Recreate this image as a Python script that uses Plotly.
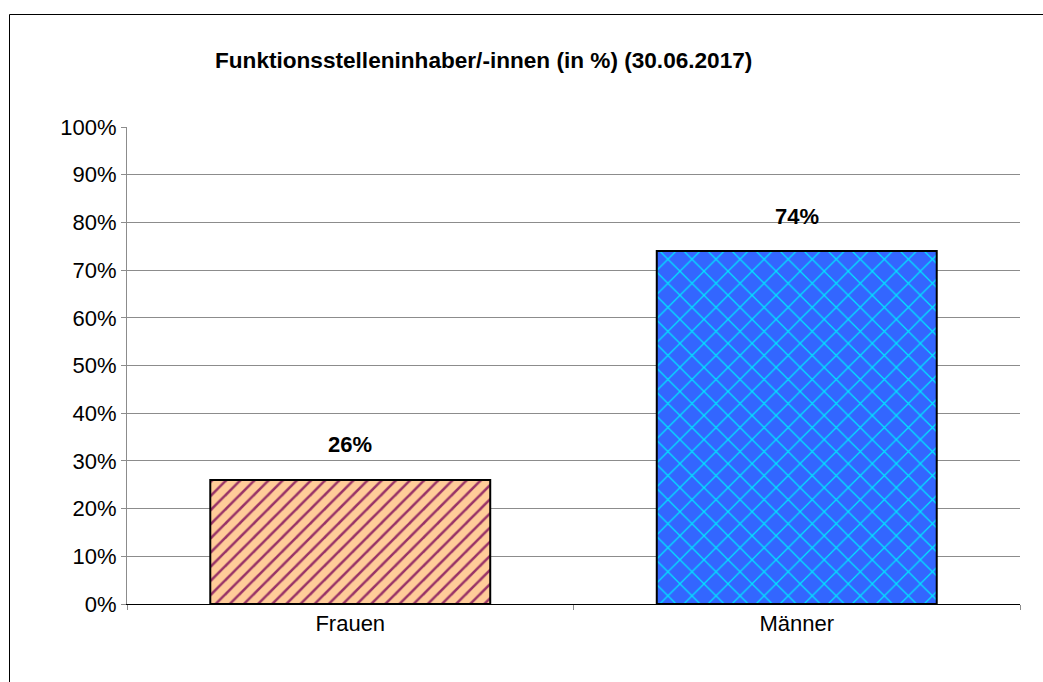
import plotly.graph_objects as go

categories = ["Frauen", "Männer"]
values = [26, 74]
labels = ["26%", "74%"]
fill_colors = ["#FFCC99", "#3366FF"]
pattern_colors = ["#993366", "#00E5FF"]
pattern_shapes = ["/", "x"]
pattern_sizes = [10, 17]
pattern_solidity = [0.25, 0.14]
title_text = "Funktionsstelleninhaber/-innen (in %) (30.06.2017)"
tick_vals = list(range(0, 101, 10))
tick_text = [f"{v}%" for v in tick_vals]

W, H = 1043, 682
L, T = 127, 127
R = W - 1020
B = H - 604
pw, ph = W - L - R, H - T - B

FONT = "Liberation Sans, Arial"

fig = go.Figure()
for c, v, fc, pc, ps, sz, so in zip(categories, values, fill_colors, pattern_colors,
                                    pattern_shapes, pattern_sizes, pattern_solidity):
    fig.add_trace(go.Bar(
        x=[c], y=[v],
        marker=dict(color=fc,
                    line=dict(color="black", width=2),
                    pattern=dict(shape=ps, fgcolor=pc, bgcolor=fc, size=sz,
                                 solidity=so, fillmode="replace")),
        width=0.627,
        hoverinfo="skip",
    ))

for c, v, t in zip(categories, values, labels):
    fig.add_annotation(x=c, y=v, text=f"<b>{t}</b>", showarrow=False,
                       yshift=35, font=dict(family=FONT, size=22, color="black"))

fig.add_annotation(xref="paper", yref="paper",
                   x=(483 - L) / pw, y=1 + (T - 60) / ph,
                   text=f"<b>{title_text}</b>", showarrow=False,
                   xanchor="center", yanchor="middle",
                   font=dict(family=FONT, size=22.6, color="black"))

# outer chart border (top and left visible; right/bottom lie outside the view)
bx, by = 9.5, 14.5
fig.add_shape(type="line", xref="paper", yref="paper",
              x0=(bx - L) / pw, x1=(W - L) / pw,
              y0=1 + (T - by) / ph, y1=1 + (T - by) / ph,
              line=dict(color="black", width=1))
fig.add_shape(type="line", xref="paper", yref="paper",
              x0=(bx - L) / pw, x1=(bx - L) / pw,
              y0=1 + (T - by) / ph, y1=-B / ph,
              line=dict(color="black", width=1))

fig.update_layout(
    width=W, height=H,
    margin=dict(l=L, r=R, t=T, b=B, pad=0),
    paper_bgcolor="white", plot_bgcolor="white",
    showlegend=False,
    font=dict(family=FONT, size=22, color="black"),
    bargap=0.373,
    barmode="overlay",
)
fig.update_yaxes(range=[0, 100], tickvals=tick_vals, ticktext=tick_text,
                 showgrid=True, gridcolor="#8c8c8c", gridwidth=1,
                 showline=True, linecolor="#8c8c8c", linewidth=1,
                 ticks="outside", ticklen=5, tickcolor="#8c8c8c",
                 zeroline=False, fixedrange=True,
                 tickfont=dict(size=22))
fig.update_xaxes(showline=True, linecolor="black", linewidth=1,
                 ticks="outside", ticklen=5, tickcolor="#8c8c8c",
                 tickson="boundaries", showgrid=False, fixedrange=True,
                 tickfont=dict(size=22))

fig.write_html("out.html", config={"displayModeBar": False})

# remove default page margin so the figure fills the window exactly
with open("out.html", "r", encoding="utf-8") as f:
    html = f.read()
html = html.replace("<head>", "<head><style>html,body{margin:0;padding:0;overflow:hidden;}</style>", 1)
with open("out.html", "w", encoding="utf-8") as f:
    f.write(html)
